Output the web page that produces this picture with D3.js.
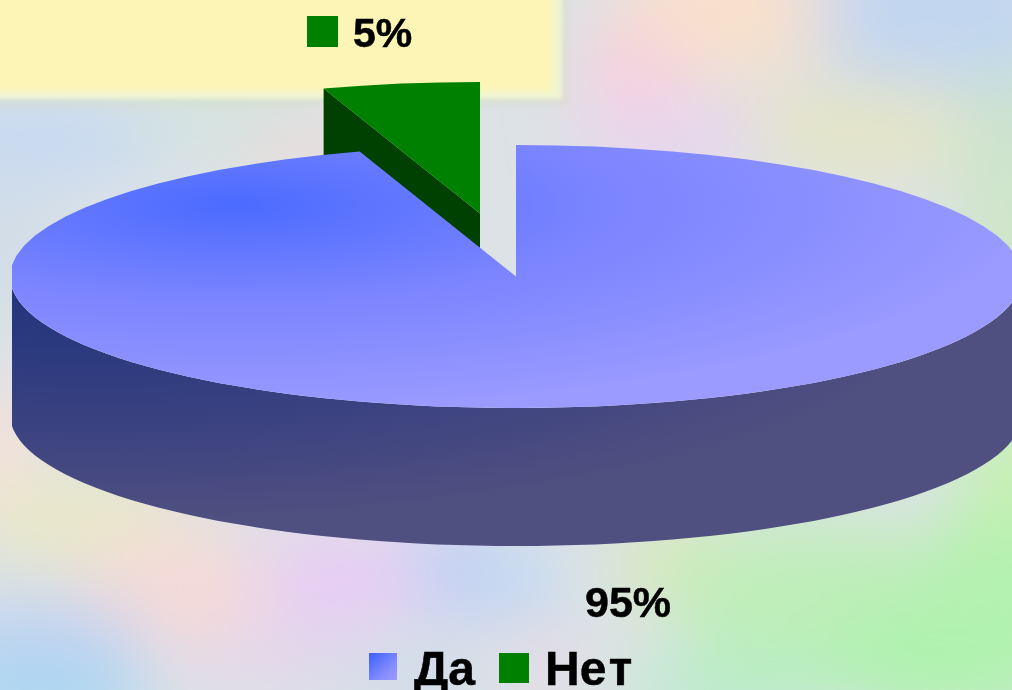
<!DOCTYPE html>
<html><head><meta charset="utf-8">
<script src="https://cdnjs.cloudflare.com/ajax/libs/d3/7.8.5/d3.min.js"></script>
<style>html,body{margin:0;padding:0;overflow:hidden;background:#d5e2ea}svg{display:block}
text{font-family:"Liberation Sans",Arial,sans-serif;font-weight:700;fill:#000;stroke:#000;stroke-width:.5px}</style>
</head><body><div id="c"></div>
<script>
const categories = ["Да", "Нет"];
const values = [95, 5];

const W = 1012, H = 690;
const cx = 516, cy = 276.5, rx = 506, ry = 131.5, depth = 138;
const burst = {x: -36, y: -63};

const svg = d3.select("#c").append("svg").attr("width", W).attr("height", H);
const defs = svg.append("defs");
function blur(id, sd){
  defs.append("filter").attr("id",id).attr("filterUnits","userSpaceOnUse").attr("x",-200).attr("y",-200).attr("width",W+400).attr("height",H+400)
    .append("feGaussianBlur").attr("stdDeviation",sd);
}
blur("soft",34); blur("e2",2); blur("e3",3); blur("e5",5); blur("txt",0.55);
defs.append("clipPath").attr("id","plot").append("rect").attr("x",12).attr("y",0).attr("width",W).attr("height",H);

const gradTop = defs.append("radialGradient").attr("id","gTop").attr("gradientUnits","userSpaceOnUse")
  .attr("cx",0).attr("cy",0).attr("r",1).attr("gradientTransform","translate(235,205) scale(800,205)");
gradTop.append("stop").attr("offset",0).attr("stop-color","#4b6bff");
gradTop.append("stop").attr("offset",0.45).attr("stop-color","#7a84ff");
gradTop.append("stop").attr("offset",1).attr("stop-color","#9a9aff");
const gradSide = defs.append("radialGradient").attr("id","gSide").attr("gradientUnits","userSpaceOnUse")
  .attr("cx",0).attr("cy",0).attr("r",1).attr("gradientTransform","translate(100,285) scale(850,235)");
gradSide.append("stop").attr("offset",0).attr("stop-color","#1e337c");
gradSide.append("stop").attr("offset",0.6).attr("stop-color","#3b4281");
gradSide.append("stop").attr("offset",1).attr("stop-color","#4f4f80");
const gradKey = defs.append("linearGradient").attr("id","gKey").attr("x1",0).attr("y1",0).attr("x2",1).attr("y2",1);
gradKey.append("stop").attr("offset",0).attr("stop-color","#3a5fff");
gradKey.append("stop").attr("offset",0.7).attr("stop-color","#8a8fff");
gradKey.append("stop").attr("offset",1).attr("stop-color","#9a9aff");

// pastel backdrop
const bg = svg.append("g");
bg.append("rect").attr("width",W).attr("height",H).attr("fill","#dde2e6");
const wash = bg.append("g").attr("filter","url(#soft)");
[[1012,130,70,120,"#cbe3cf"],[1012,280,60,120,"#cfe6c8"],[860,130,110,50,"#e5e5c6"],
 [930,10,150,75,"#c2d6f0"],[720,10,110,70,"#f8e0cc"],[630,70,55,45,"#f8d0de"],[670,140,90,40,"#e8d4ee"],
 [30,140,140,50,"#c8daf2"],[210,115,100,22,"#cde4da"],[310,160,70,35,"#ecdcdc"],[0,240,40,90,"#cfdce8"],
 [-10,450,40,60,"#fae0d8"],[80,520,110,50,"#e8e8c8"],[175,590,100,60,"#f6dad8"],
 [40,640,110,40,"#bed3f2"],[40,700,120,30,"#a0d6f2"],[340,580,85,50,"#e8ccf4"],[270,660,90,26,"#e2d4ec"],
 [460,570,50,50,"#c0cef6"],[410,680,80,22,"#c8daea"],[530,590,36,45,"#c0dcf2"],[540,650,28,28,"#f0d4e2"],
 [700,565,90,45,"#d6eab6"],[830,600,160,80,"#bfeeba"],[950,660,130,60,"#aef2ae"],[1020,560,80,110,"#b2f2ae"],
 [1020,470,60,70,"#c6f0b4"],[730,690,110,30,"#b2eec6"]]
  .forEach(b => wash.append("ellipse").attr("cx",b[0]).attr("cy",b[1]).attr("rx",b[2]).attr("ry",b[3]).attr("fill",b[4]));
// pale yellow panel with its soft rim
bg.append("rect").attr("x",-30).attr("y",-30).attr("width",598).attr("height",137).attr("fill","#d4dcc8").attr("opacity",.5).attr("filter","url(#e5)");
bg.append("rect").attr("x",-30).attr("y",-30).attr("width",592).attr("height",129).attr("fill","#f0f5d2").attr("filter","url(#e2)");
bg.append("rect").attr("x",-30).attr("y",-30).attr("width",582).attr("height",121).attr("fill","#fdf5b6").attr("filter","url(#e3)");

// pie geometry from the values
const slices = d3.pie().sort(null).startAngle(0).endAngle(2*Math.PI)(values);
const sx = d3.scaleLinear().domain([-1,1]).range([cx-rx,cx+rx]);
const sy = d3.scaleLinear().domain([-1,1]).range([cy-ry,cy+ry]);
const px = a => sx(Math.sin(a)), py = a => sy(-Math.cos(a));

function wedgePath(s, dx, dy){
  const n = Math.max(4, Math.round((s.endAngle-s.startAngle)/(Math.PI/40)));
  const pts = d3.range(n+1).map(i => { const a = s.startAngle+(s.endAngle-s.startAngle)*i/n; return [px(a)+dx, py(a)+dy]; });
  return "M"+(sx(0)+dx)+","+(sy(0)+dy)+"L"+pts.map(p=>p.join(",")).join("L")+"Z";
}
const chart = svg.append("g").attr("clip-path","url(#plot)");
const yes = slices[0], no = slices[1];

// exploded slice: cut face, then top
const nx = a => px(a)+burst.x, ny = a => py(a)+burst.y;
chart.append("path").attr("fill","#004000").attr("d",
  `M${nx(no.startAngle)},${ny(no.startAngle)}L${sx(0)+burst.x},${sy(0)+burst.y}L${sx(0)+burst.x},${sy(0)+burst.y+depth}L${nx(no.startAngle)},${ny(no.startAngle)+depth}Z`);
chart.append("path").attr("fill","#008000").attr("d",wedgePath(no,burst.x,burst.y));

// rim of the large slice: lower half of the ellipse
const rim = d3.range(0,81).map(i => Math.PI/2 + Math.PI*i/80);
chart.append("path").attr("fill","url(#gSide)").attr("d",
  "M"+rim.map(a=>[px(a),py(a)].join(",")).join("L")+"L"+rim.slice().reverse().map(a=>[px(a),py(a)+depth].join(",")).join("L")+"Z");
chart.append("path").attr("fill","url(#gTop)").attr("d",wedgePath(yes,0,0));

// labels
const t = svg.append("g").attr("filter","url(#txt)");
svg.append("rect").attr("x",307).attr("y",16).attr("width",31).attr("height",31).attr("fill","#008000");
t.append("text").attr("x",353).attr("y",47).attr("font-size",41).text(values[1]+"%");
t.append("text").attr("x",585).attr("y",617).attr("font-size",43).text(values[0]+"%");

// legend
svg.append("rect").attr("x",369).attr("y",653).attr("width",28).attr("height",27).attr("fill","url(#gKey)");
svg.append("rect").attr("x",499).attr("y",653).attr("width",30).attr("height",30).attr("fill","#008000");
t.append("text").attr("x",414).attr("y",685).attr("font-size",48).text(categories[0]);
const net = t.append("text").attr("x",545).attr("y",685).attr("font-size",48);
net.append("tspan").text(categories[1].slice(0,2));
net.append("tspan").attr("dx",3).text(categories[1].slice(2));
</script></body></html>
